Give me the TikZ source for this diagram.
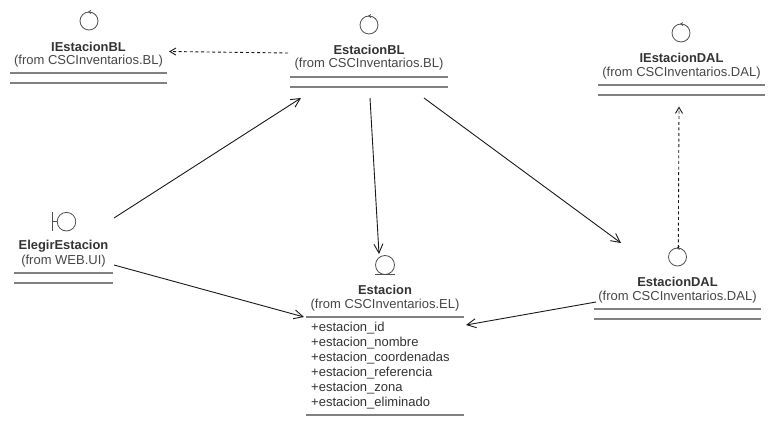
\documentclass[tikz,border=0pt]{standalone}
\usepackage{fontspec}
\setmainfont{Liberation Sans}
\usetikzlibrary{arrows.meta}
\definecolor{txt}{HTML}{333333}
\definecolor{rule}{HTML}{808080}
\definecolor{icon}{HTML}{505050}
\definecolor{conn}{HTML}{1A1A1A}
\tikzset{
  classbox/.style={inner sep=0pt,outer sep=0pt},
  title/.style={font=\fontsize{12.9}{14}\selectfont\bfseries,text=txt,inner sep=0pt},
  from/.style={font=\fontsize{13}{14}\selectfont,text=txt!90!white,inner sep=0pt},
  attr/.style={font=\fontsize{13}{14}\selectfont,text=txt,inner sep=0pt,anchor=west},
  rl/.style={draw=rule,line width=2pt},
  ic/.style={draw=icon,line width=0.8pt},
  assoc/.style={draw=conn,line width=0.9pt,-{Straight Barb[length=9pt,width=9pt,line width=0.9pt]}},
  dep/.style={draw=conn,line width=0.9pt,dash pattern=on 3pt off 2.6pt,-{Straight Barb[length=6pt,width=7pt,line width=0.9pt,line cap=butt]}},
}
\begin{document}
\begin{tikzpicture}[x=1pt,y=-1pt]
\useasboundingbox (0,0) rectangle (775,435);
\fill[white] (0,0) rectangle (775,435);
% class envelopes
\node[classbox,minimum width=157pt,minimum height=73pt] (ibl) at (88.5,46.5) {};
\node[classbox,minimum width=158pt,minimum height=77pt] (ebl) at (369,48.5) {};
\node[classbox,minimum width=167pt,minimum height=73pt] (idal) at (681.5,59) {};
\node[classbox,minimum width=167pt,minimum height=72pt] (edal) at (677.5,283.5) {};
\node[classbox,minimum width=99pt,minimum height=72pt] (eleg) at (63.5,247) {};
\node[classbox,minimum width=158pt,minimum height=160pt] (est) at (385,335) {};
% IEstacionBL
\draw[ic] (89,21) circle (9);
\draw[ic] (91,10.5) -- (88.6,12) -- (91,13.6);
\node[title] (ibl-t) at (88.5,46.5) {IEstacionBL};
\node[from] (ibl-f) at (88.5,61.5) {(from CSCInventarios.BL)};
\draw[rl] (10,73) -- (167,73) (10,83) -- (167,83);
% EstacionBL
\draw[ic] (369,25) circle (9);
\draw[ic] (371,14.5) -- (368.6,16) -- (371,17.6);
\node[title] (ebl-t) at (369,49.5) {EstacionBL};
\node[from] (ebl-f) at (369,64.5) {(from CSCInventarios.BL)};
\draw[rl] (290,77) -- (448,77) (290,87) -- (448,87);
% IEstacionDAL
\draw[ic] (681,33) circle (9);
\draw[ic] (683,22.5) -- (680.6,24) -- (683,25.6);
\node[title] (idal-t) at (681.5,58) {IEstacionDAL};
\node[from] (idal-f) at (681.5,73.5) {(from CSCInventarios.DAL)};
\draw[rl] (598,85) -- (765,85) (598,95) -- (765,95);
% EstacionDAL
\draw[ic] (677.5,257) circle (9);
\draw[ic] (679.5,246.5) -- (677.1,248) -- (679.5,249.6);
\node[title] (edal-t) at (677.5,281.5) {EstacionDAL};
\node[from] (edal-f) at (677.5,297) {(from CSCInventarios.DAL)};
\draw[rl] (594,309) -- (761,309) (594,319) -- (761,319);
% ElegirEstacion
\draw[ic] (66.5,221.7) circle (9.3);
\draw[ic] (52,212) -- (52,231.5) (52,221.7) -- (57.2,221.7);
\node[title] (eleg-t) at (63.5,246) {ElegirEstacion};
\node[from] (eleg-f) at (63.5,261.5) {(from WEB.UI)};
\draw[rl] (14,273) -- (113,273) (14,283) -- (113,283);
% Estacion
\draw[ic] (385,265) circle (9.5);
\draw[ic] (375,274.5) -- (395,274.5);
\node[title] (est-t) at (385,290) {Estacion};
\node[from] (est-f) at (385,305) {(from CSCInventarios.EL)};
\draw[rl] (306,317) -- (464,317) (306,414.5) -- (464,414.5);
\node[attr] (a1) at (311,328.5) {+estacion\_id};
\node[attr] (a2) at (311,343.5) {+estacion\_nombre};
\node[attr] (a3) at (311,358.5) {+estacion\_coordenadas};
\node[attr] (a4) at (311,373.3) {+estacion\_referencia};
\node[attr] (a5) at (311,388.2) {+estacion\_zona};
\node[attr] (a6) at (311,403.2) {+estacion\_eliminado};
% connectors
\draw[dep] ([shift={(-81,4.5)}]ebl.center) -- ([shift={(80.5,5)}]ibl.center);
\draw[assoc] ([shift={(50.5,-29)}]eleg.center) -- ([shift={(-68,49.5)}]ebl.center);
\draw[assoc] ([shift={(50.5,18)}]eleg.center) -- ([shift={(-81,-18)}]est.center);
\draw[assoc] ([shift={(1,49.5)}]ebl.center) -- ([shift={(-6,-81)}]est.center);
\draw[assoc] ([shift={(55,49.5)}]ebl.center) -- ([shift={(-56.5,-40.5)}]edal.center);
\draw[assoc] ([shift={(-81.5,18.5)}]edal.center) -- ([shift={(81,-10)}]est.center);
\draw[dep] ([shift={(0.8,-35.5)}]edal.center) -- ([shift={(-2.5,47.5)}]idal.center);
\end{tikzpicture}
\end{document}
